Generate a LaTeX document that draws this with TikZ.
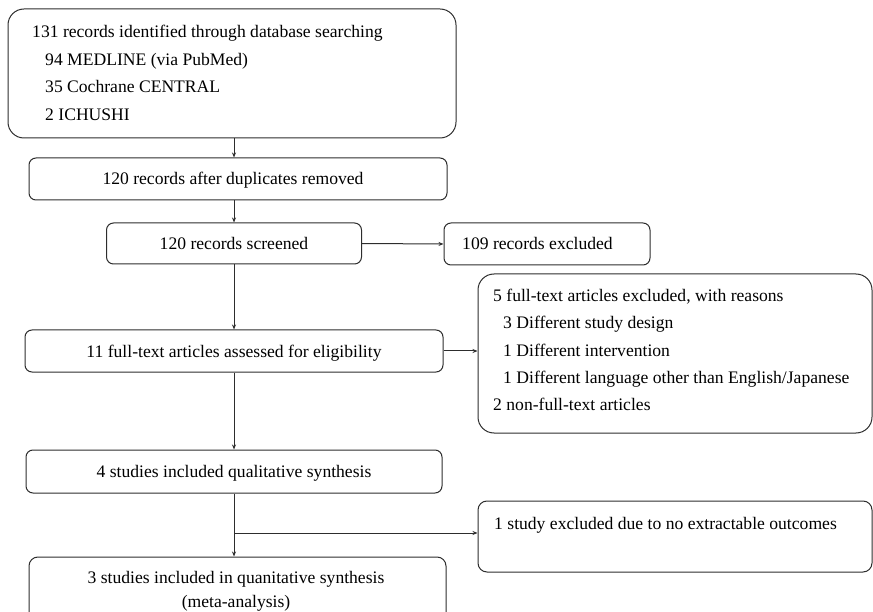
\documentclass[tikz,border=0pt]{standalone}
\usepackage{fontspec}
\setmainfont{Liberation Serif}
\usetikzlibrary{arrows.meta}
\definecolor{linecol}{RGB}{45,45,45}
\begin{document}
\begin{tikzpicture}[x=1pt,y=-1pt,
  box/.style={draw=linecol, line width=1pt, rounded corners=7pt, inner sep=0pt},
  bigbox/.style={box, rounded corners=16pt},
  txt/.style={inner sep=0pt, yshift=-3.5pt, text height=0.7em, text depth=0.2em, font=\fontsize{17.6pt}{21pt}\selectfont},
  arr/.style={draw=linecol, line width=1pt, -{Stealth[length=5pt,width=4pt]}}]
\useasboundingbox (0,0) rectangle (873,612);
% boxes
\node[bigbox, minimum width=448pt, minimum height=129pt] (top) at (232,73.5) {};
\node[txt, anchor=west] (t1) at (32,32) {131 records identified through database searching};
\node[txt, anchor=west] (t2) at (45,60) {94 MEDLINE (via PubMed)};
\node[txt, anchor=west] (t3) at (45,87) {35 Cochrane CENTRAL};
\node[txt, anchor=west] (t4) at (45,115) {2 ICHUSHI};

\node[box, minimum width=418pt, minimum height=42pt] (dup) at (238,179) {};
\node[txt] (dupt) at (233,179) {120 records after duplicates removed};

\node[box, minimum width=255pt, minimum height=41pt] (scr) at (234,243.5) {};
\node[txt] (scrt) at (234,243.5) {120 records screened};

\node[box, minimum width=206pt, minimum height=42pt] (exa) at (547,244) {};
\node[txt, anchor=west] (exat) at (462,244) {109 records excluded};

\node[box, minimum width=418pt, minimum height=42pt] (full) at (234,351) {};
\node[txt] (fullt) at (234,351) {11 full-text articles assessed for eligibility};

\node[bigbox, minimum width=394pt, minimum height=159pt] (exb) at (675,353.5) {};
\node[txt, anchor=west] (b1) at (493,296) {5 full-text articles excluded, with reasons};
\node[txt, anchor=west] (b2) at (503,323) {3 Different study design};
\node[txt, anchor=west] (b3) at (503,350) {1 Different intervention};
\node[txt, anchor=west] (b4) at (503,377) {1 Different language other than English/Japanese};
\node[txt, anchor=west] (b5) at (493,404) {2 non-full-text articles};

\node[box, minimum width=416pt, minimum height=43pt] (qual) at (234,471.5) {};
\node[txt] (qualt) at (234,471.5) {4 studies included qualitative synthesis};

\node[box, rounded corners=9pt, minimum width=394pt, minimum height=71pt] (exc) at (675,536.5) {};
\node[txt, anchor=west] (exct) at (494,523) {1 study excluded due to no extractable outcomes};

\node[box, rounded corners=9pt, minimum width=417pt, minimum height=70pt] (quant) at (237.5,592) {};
\node[txt] (q1) at (236,577) {3 studies included in quanitative synthesis};
\node[txt] (q2) at (236,601) {(meta-analysis)};

% connectors
\draw[arr] (top.south -| scr) -- (dup.north -| scr);
\draw[arr] (dup.south -| scr) -- (scr.north);
\draw[arr] (scr.east) -- (exa.west);
\draw[arr] (scr.south) -- (full.north -| scr);
\draw[arr] (full.east) -- (full.east -| exb.west);
\draw[arr] (full.south -| scr) -- (qual.north -| scr);
\draw[arr] (qual.south -| scr) -- (quant.north -| scr);
\coordinate (br) at (234,533);
\draw[arr] (br) -- (br -| exc.west);
\end{tikzpicture}
\end{document}
